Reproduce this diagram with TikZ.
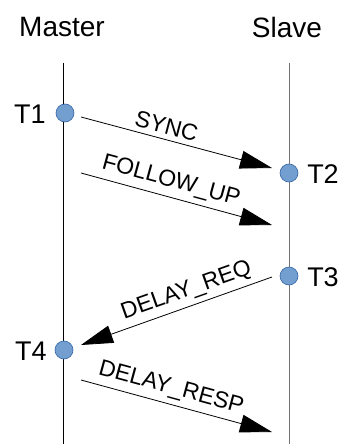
\documentclass[tikz,border=0pt]{standalone}
\usepackage{fontspec}
\setmainfont{Liberation Sans}
\usetikzlibrary{arrows.meta}
\definecolor{dotfill}{HTML}{729FCF}
\definecolor{dotline}{HTML}{3465A4}
\tikzset{
  x=1pt, y=-1pt,
  party/.style={font=\fontsize{28}{32}\selectfont, inner sep=0pt},
  stamp/.style={font=\fontsize{27}{30}\selectfont, inner sep=0pt},
  event/.style={circle, fill=dotfill, draw=dotline, line width=0.6pt, minimum size=18pt, inner sep=0pt},
  msg/.style={line width=0.8pt, -{Triangle[length=32pt, width=18pt]}},
  msglabel/.style={font=\fontsize{23}{26}\selectfont, inner sep=0pt, sloped, above=5pt},
}
\begin{document}
\begin{tikzpicture}
\useasboundingbox (0,0) rectangle (340,444);
% lifelines
\node[party] (master) at (62,27) {Master};
\node[party] (slave) at (287,27) {Slave};
\coordinate (mtop) at (63,63);
\coordinate (mbot) at (63,444);
\coordinate (stop) at (289,63);
\coordinate (sbot) at (289,444);
\draw[line width=1pt, black] (mtop) -- (mbot);
\draw[line width=1pt, black!55] (stop) -- (sbot);
% timestamps
\node[event] (t1) at (65,113) {};
\node[event] (t2) at (289,173) {};
\node[event] (t3) at (289,276) {};
\node[event] (t4) at (64,350) {};
\node[stamp] at (30,114) {T1};
\node[stamp] at (323,174) {T2};
\node[stamp] at (323,277) {T3};
\node[stamp] at (31,351) {T4};
% messages
\coordinate (s1) at (81,117);  \coordinate (e1) at (272,168);
\coordinate (s2) at (81,173);  \coordinate (e2) at (272,225);
\coordinate (s3) at (272,277); \coordinate (e3) at (81,345);
\coordinate (s4) at (81,380);  \coordinate (e4) at (272,432);
\draw[msg] (s1) -- node[msglabel, pos=0.43] {SYNC} (e1);
\draw[msg] (s2) -- node[msglabel, pos=0.45] {FOLLOW\_UP} (e2);
\draw[msg] (s3) -- node[msglabel, pos=0.42, allow upside down=false] {DELAY\_REQ} (e3);
\draw[msg] (s4) -- node[msglabel, pos=0.45] {DELAY\_RESP} (e4);
\end{tikzpicture}
\end{document}
